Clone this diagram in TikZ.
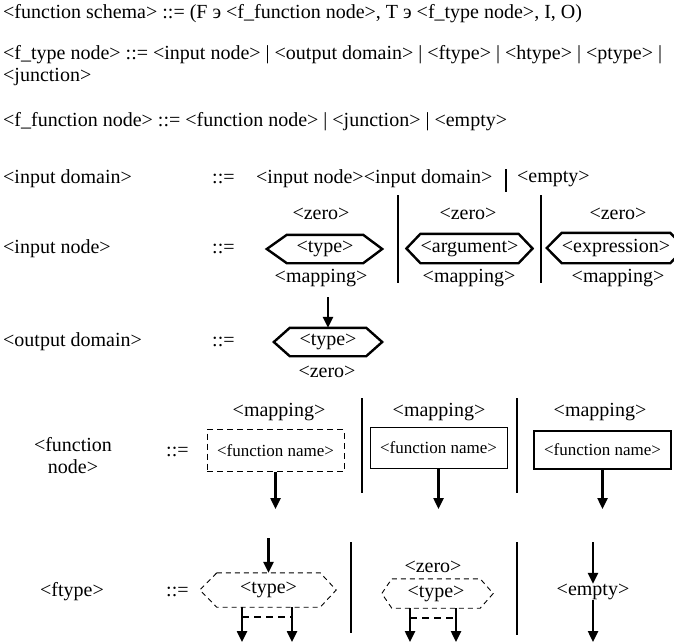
\documentclass[tikz,border=0pt]{standalone}
\usepackage{fontspec}
\setmainfont{Liberation Serif}
\usetikzlibrary{arrows.meta}
\begin{document}
\begin{tikzpicture}[x=1pt,y=-1pt,
  every node/.style={inner sep=0pt, font=\fontsize{20}{22}\selectfont},
  txt/.style={anchor=west},
  hexbox/.style={inner sep=0pt},
  hexthick/.style={line width=2.4pt, line join=miter},
  hexdash/.style={line width=0.9pt, dash pattern=on 5pt off 4pt},
  arr/.style={line width=2.4pt, -{Triangle[length=11pt,width=10pt]}},
  bar/.style={line width=1.2pt},
  fbox/.style={minimum width=137pt, minimum height=42pt, font=\fontsize{17}{20}\selectfont},
  pairdash/.style={line width=2.4pt, dash pattern=on 7pt off 5pt}]
\useasboundingbox (0,0) rectangle (674,643);

% header lines
\node[txt] (l1) at (3,14) {<function schema> ::= (F э <f\_function node>, T э <f\_type node>, I, O)};
\node[txt] (l2) at (3,55) {<f\_type node> ::= <input node> | <output domain> | <ftype> | <htype> | <ptype> |};
\node[txt] (l2b) at (3,77) {<junction>};
\node[txt] (l3) at (3,122) {<f\_function node> ::= <function node> | <junction> | <empty>};

% input domain
\node[txt] (idl) at (3,179) {<input domain>};
\node[txt] (idd) at (212,179) {::=};
\node[txt] (idr) at (256,179) {<input node><input domain>};
\coordinate (idbt) at (506,169);
\coordinate (idbb) at (506,192);
\draw[bar] (idbt) -- (idbb);
\node[txt] (ide) at (517,179) {<empty>};

% input node
\node[txt] (inl) at (3,249) {<input node>};
\node[txt] (ind) at (212,249) {::=};
\node (z1) at (321,214) {<zero>};
\node (z2) at (468,214) {<zero>};
\node (z3) at (618,214) {<zero>};
\node[hexbox, minimum width=76pt, minimum height=28pt] (hA) at (325,249) {<type>};
\draw[hexthick] (hA.north west) -- (hA.north east) -- ([xshift=19pt]hA.east) -- (hA.south east) -- (hA.south west) -- ([xshift=-20pt]hA.west) -- cycle;
\node[hexbox, minimum width=95pt, minimum height=29pt] (hB) at (469.5,248.5) {<argument>};
\draw[hexthick] (hB.north west) -- (hB.north east) -- ([xshift=14pt]hB.east) -- (hB.south east) -- (hB.south west) -- ([xshift=-14pt]hB.west) -- cycle;
\node[hexbox, minimum width=102pt, minimum height=30pt] (hC) at (616,248) {<expression>};
\draw[hexthick] (hC.north west) -- (hC.north east) -- ([xshift=15pt]hC.east) -- (hC.south east) -- (hC.south west) -- ([xshift=-15pt]hC.west) -- cycle;
\node (m1) at (321,278) {<mapping>};
\node (m2) at (469,278) {<mapping>};
\node (m3) at (618,278) {<mapping>};
\coordinate (b1t) at (398,195); \coordinate (b1b) at (398,283);
\coordinate (b2t) at (541,195); \coordinate (b2b) at (541,283);
\draw[bar] (b1t) -- (b1b);
\draw[bar] (b2t) -- (b2b);

% output domain
\node[txt] (odl) at (3,342) {<output domain>};
\node[txt] (odd) at (212,342) {::=};
\node[hexbox, minimum width=76pt, minimum height=28pt] (hD) at (328,342) {<type>};
\draw[hexthick] (hD.north west) -- (hD.north east) -- ([xshift=16pt]hD.east) -- (hD.south east) -- (hD.south west) -- ([xshift=-16pt]hD.west) -- cycle;
\node (zD) at (327,372) {<zero>};
\coordinate (aD) at (328,297);
\draw[arr] (aD) -- (hD.north);

% function node
\node[align=center] (fnl) at (73,456) {<function\\node>};
\node[txt] (fnd) at (166,452) {::=};
\node (fm1) at (279,412) {<mapping>};
\node (fm2) at (439,412) {<mapping>};
\node (fm3) at (600,412) {<mapping>};
\node[fbox, draw, line width=0.9pt, dash pattern=on 6pt off 4pt] (fn1) at (275.5,450.5) {<function name>};
\node[fbox, draw, line width=0.9pt, minimum height=41pt] (fn2) at (438.5,447.5) {<function name>};
\node[fbox, draw, line width=2.4pt, minimum width=137pt, minimum height=38pt] (fn3) at (602.5,450) {<function name>};
\coordinate (fb1t) at (362,398); \coordinate (fb1b) at (362,493);
\coordinate (fb2t) at (517,398); \coordinate (fb2b) at (517,493);
\draw[bar] (fb1t) -- (fb1b);
\draw[bar] (fb2t) -- (fb2b);
\coordinate (fe1) at (275.5,509);
\coordinate (fe2) at (438.5,509);
\coordinate (fe3) at (602.5,509);
\draw[arr] (fn1.south) -- (fe1);
\draw[arr] (fn2.south) -- (fe2);
\draw[arr] (fn3.south) -- (fe3);

% ftype
\node[txt] (ftl) at (40,592) {<ftype>};
\node[txt] (ftd) at (166,592) {::=};
\node[hexbox, minimum width=103pt, minimum height=34pt] (hE) at (268.5,590) {<type>};
\draw[hexdash] (hE.north west) -- (hE.north east) -- ([xshift=16pt]hE.east) -- (hE.south east) -- (hE.south west) -- ([xshift=-17pt]hE.west) -- cycle;
\coordinate (eIn) at (268.5,538);
\draw[arr] (eIn) -- (hE.north);
\coordinate (eL) at (242,642); \coordinate (eR) at (292,642);
\coordinate (eLm) at (242,617); \coordinate (eRm) at (292,617);
\draw[arr] (eL |- hE.south) -- (eL);
\draw[arr] (eR |- hE.south) -- (eR);
\draw[pairdash] (eLm) -- (eRm);
\coordinate (eb1t) at (351,542); \coordinate (eb1b) at (351,633);
\draw[bar] (eb1t) -- (eb1b);

\node (zF) at (433,567) {<zero>};
\node[hexbox, minimum width=88pt, minimum height=29pt] (hF) at (436,593.5) {<type>};
\draw[hexdash] (hF.north west) -- (hF.north east) -- ([xshift=13pt]hF.east) -- (hF.south east) -- (hF.south west) -- ([xshift=-10pt]hF.west) -- cycle;
\coordinate (fL) at (410,642); \coordinate (fR) at (456,642);
\coordinate (fLm) at (410,618); \coordinate (fRm) at (456,618);
\draw[arr] (fL |- hF.south) -- (fL);
\draw[arr] (fR |- hF.south) -- (fR);
\draw[pairdash] (fLm) -- (fRm);
\coordinate (eb2t) at (517,542); \coordinate (eb2b) at (517,635);
\draw[bar] (eb2t) -- (eb2b);

\node (emp) at (593,592) {<empty>};
\coordinate (empIn) at (593,542);
\coordinate (empOut) at (593,642);
\draw[arr] (empIn) -- (emp.north);
\draw[arr] (emp.south) -- (empOut);
\end{tikzpicture}
\end{document}
